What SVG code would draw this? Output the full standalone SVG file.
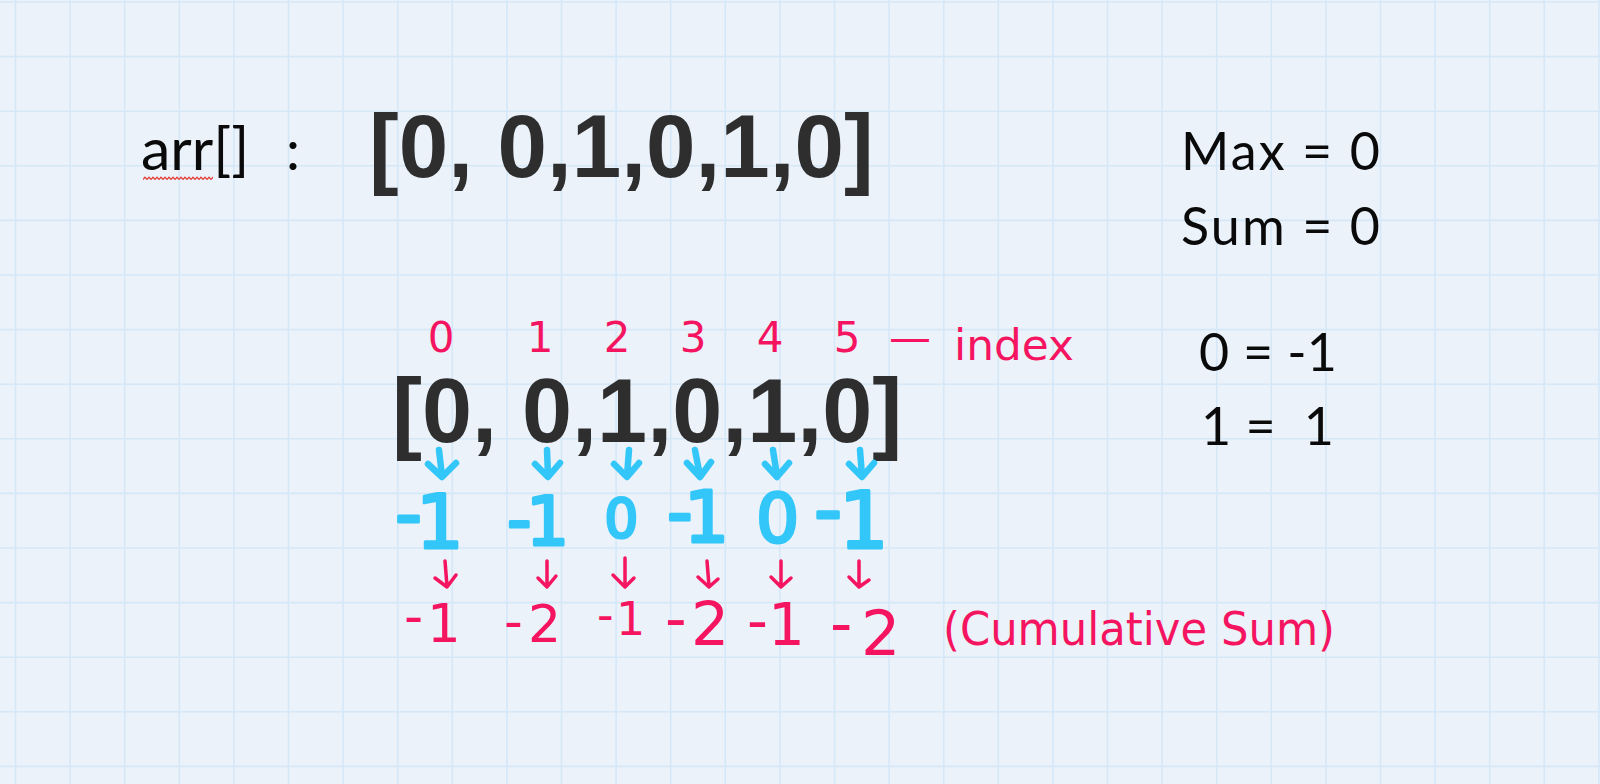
<svg xmlns="http://www.w3.org/2000/svg" width="1600" height="784" viewBox="0 0 1600 784">
<style>
.grid{stroke:#D5E8F8;stroke-width:1.6;fill:none}
.cal{fill:#0A0A0A;font-family:Lato,"Liberation Sans",sans-serif}
.big{fill:#2E2E2E;font-family:"Liberation Sans",Arial,sans-serif;font-weight:bold}
.pk{fill:#F5145F;font-family:"DejaVu Sans",sans-serif}
.bl{fill:#33C7F9;stroke:#33C7F9;stroke-width:3;stroke-linejoin:round;font-family:"DejaVu Sans",sans-serif}
.ab{stroke:#33C7F9;stroke-width:6.5;fill:none;stroke-linecap:round;stroke-linejoin:round}
.ap{stroke:#F5145F;stroke-width:3.5;fill:none;stroke-linecap:round;stroke-linejoin:round}
</style>
<defs>
<pattern id="squig" x="143" y="176" width="4" height="5" patternUnits="userSpaceOnUse">
<path d="M0 3.6 L2 1.2 L4 3.6" stroke="#E53935" stroke-width="1.3" fill="none"/>
</pattern>
</defs>
<rect width="1600" height="784" fill="#EBF2FA"/>
<path class="grid" d="M15.5 0V784M70.1 0V784M124.7 0V784M179.3 0V784M233.9 0V784M288.5 0V784M343.1 0V784M397.7 0V784M452.3 0V784M506.9 0V784M561.5 0V784M616.1 0V784M670.7 0V784M725.3 0V784M779.9 0V784M834.5 0V784M889.1 0V784M943.7 0V784M998.3 0V784M1052.9 0V784M1107.5 0V784M1162.1 0V784M1216.7 0V784M1271.3 0V784M1325.9 0V784M1380.5 0V784M1435.1 0V784M1489.7 0V784M1544.3 0V784M1598.9 0V784M0 2H1600M0 56.6H1600M0 111.2H1600M0 165.8H1600M0 220.4H1600M0 275H1600M0 329.6H1600M0 384.2H1600M0 438.8H1600M0 493.4H1600M0 548H1600M0 602.6H1600M0 657.2H1600M0 711.8H1600M0 766.4H1600"/>

<g id="arr-label">
<text class="cal" x="141" y="170" font-size="59">arr[]</text>
<rect x="143" y="176" width="70" height="5" fill="url(#squig)"/>
<text class="cal" x="286" y="170" font-size="56">:</text>
</g>
<g id="array-top">
<text class="big" x="369" y="177" font-size="89">[0, 0,1,0,1,0]</text>
</g>
<g id="max-sum">
<text class="cal" x="1181" y="170" font-size="52" textLength="199" lengthAdjust="spacing">Max = 0</text>
<text class="cal" x="1181" y="245" font-size="52" textLength="199" lengthAdjust="spacing">Sum = 0</text>
</g>
<g id="mapping">
<text class="cal" x="1199" y="371" font-size="52" textLength="138" lengthAdjust="spacing">0 = -1</text>
<text class="cal" x="1201" y="445" font-size="52" xml:space="preserve" textLength="133" lengthAdjust="spacing">1 =  1</text>
</g>
<g id="index-row">
<text class="pk" y="352" font-size="42" text-anchor="middle"><tspan x="441">0</tspan><tspan x="540">1</tspan><tspan x="617">2</tspan><tspan x="693">3</tspan><tspan x="770">4</tspan><tspan x="847">5</tspan></text>
<text class="pk" x="889" y="352" font-size="42">—</text>
<text class="pk" x="954" y="360" font-size="42" textLength="120" lengthAdjust="spacingAndGlyphs">index</text>
</g>
<g id="array-mid">
<text class="big" x="392" y="442" font-size="90">[0, 0,1,0,1,0]</text>
</g>
<g id="mapped-values">
<text class="bl" font-size="75" x="395 416" y="540 548">-1</text>
<text class="bl" font-size="68" x="507 526" y="543 545">-1</text>
<text class="bl" font-size="53" x="604.5" y="537">0</text>
<text class="bl" font-size="71" x="667 684" y="537 542">-1</text>
<text class="bl" font-size="68" x="756" y="542">0</text>
<text class="bl" font-size="78" x="814 839" y="536 548">-1</text>
</g>
<g id="cumulative-values">
<text class="pk" font-size="53" x="404 427" y="635 642">-1</text>
<text class="pk" font-size="52" x="504 528" y="639 642">-2</text>
<text class="pk" font-size="46" x="597 616" y="631 635">-1</text>
<text class="pk" font-size="60" x="665 691" y="639 645">-2</text>
<text class="pk" font-size="58" x="747 768" y="641 645">-1</text>
<text class="pk" font-size="62" x="830 861" y="645 655">-2</text>
</g>
<g id="cumulative-label">
<text class="pk" x="943" y="645" font-size="46" textLength="392" lengthAdjust="spacingAndGlyphs">(Cumulative Sum)</text>
</g>
<g id="connectors">
<path class="ab" d="M439 450L442 476M428 464L442 477L456 463"/>
<path class="ab" d="M547 450L548 476M535 464L548 477L560 463"/>
<path class="ab" d="M629 450L627 476M614 464L627 477L639 463"/>
<path class="ab" d="M695 450L700 476M687 463L700 477L711 462"/>
<path class="ab" d="M773 450L777 476M765 464L777 477L789 463"/>
<path class="ab" d="M860 450L862 476M849 464L862 477L874 463"/>
<path class="ap" d="M445 561L447 586M435 578L447 587L456 575"/>
<path class="ap" d="M547 561L547 586M538 578L547 587L556 576"/>
<path class="ap" d="M625 558L625 586M613 575L625 587L634 578"/>
<path class="ap" d="M707 561L709 586M698 577L709 587L718 579"/>
<path class="ap" d="M781 561L781 586M771 577L781 587L791 578"/>
<path class="ap" d="M859 561L859 586M849 577L859 587L869 580"/>
</g>
</svg>
